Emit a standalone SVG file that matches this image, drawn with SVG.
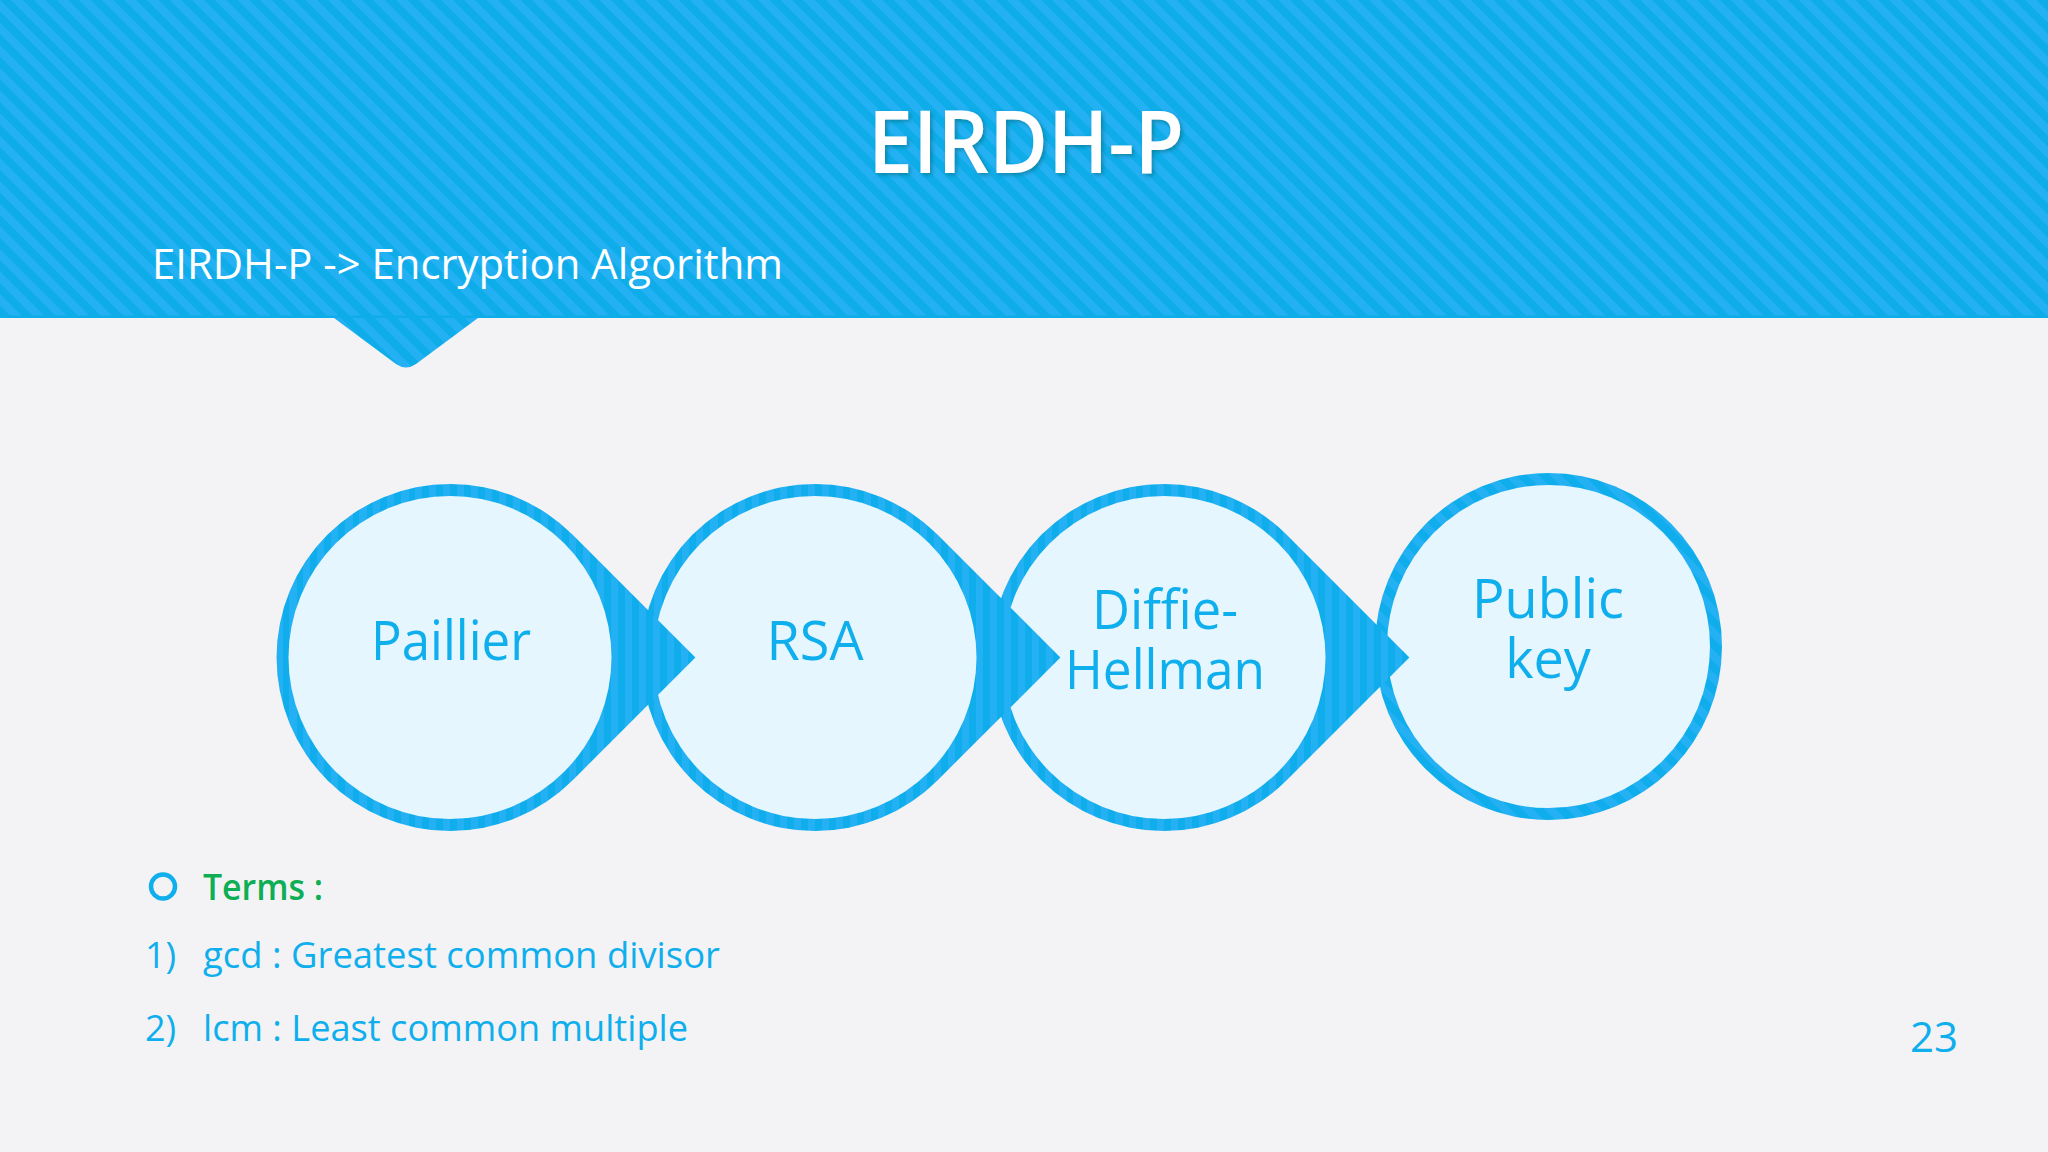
<svg xmlns="http://www.w3.org/2000/svg" width="2048" height="1152" viewBox="0 0 2048 1152">
<style>
text{font-family:"Open Sans","Noto Sans","Liberation Sans",sans-serif}
.lb{fill:#0FAEEC;font-size:54px;font-weight:400;text-anchor:middle}
.b{fill:#0FAEEC;font-size:36px;font-weight:400}
.in{fill:#E5F6FE}
</style>
<defs>
<pattern id="hs" width="16" height="16" patternUnits="userSpaceOnUse" patternTransform="rotate(-45)">
<rect width="16" height="16" fill="#24B1F4"/><rect width="8" height="16" fill="#0EADEA"/>
</pattern>
<pattern id="vs" width="14" height="14" patternUnits="userSpaceOnUse">
<rect width="14" height="14" fill="#24B1F4"/><rect width="7" height="14" fill="#0FADEB"/>
</pattern>
<pattern id="ds" width="16" height="16" patternUnits="userSpaceOnUse" patternTransform="rotate(-45)">
<rect width="16" height="16" fill="#24B1F4"/><rect width="8" height="16" fill="#0FADEB"/>
</pattern>
<path id="drop" d="M122.7 -122.7A173.5 173.5 0 1 0 122.7 122.7L245.4 0Z"/>
<filter id="sh" x="-10%" y="-20%" width="120%" height="140%"><feDropShadow dx="2" dy="2" stdDeviation="2" flood-color="#055" flood-opacity=".45"/></filter>
</defs>
<rect id="background" width="2048" height="1152" fill="#F3F3F5"/>
<g id="header">
<path d="M0 0H2048V318H478L416 364Q406 371 396 364L334 318H0Z" fill="url(#hs)"/>
<rect y="315.500" width="2048" height="2.500" fill="#0EADEA"/>
<text x="868" y="173" font-size="86" font-weight="600" fill="#fff" filter="url(#sh)" textLength="316" lengthAdjust="spacingAndGlyphs">EIRDH-P</text>
<text x="152" y="279" font-size="42" font-weight="400" fill="#fff" textLength="631" lengthAdjust="spacingAndGlyphs">EIRDH-P -&gt; Encryption Algorithm</text>
</g>
<g id="connectors"/>
<g id="node-public-key">
<circle cx="1548.500" cy="646.500" r="173.500" fill="url(#ds)"/>
<circle class="in" cx="1548.500" cy="646.500" r="161.500"/>
<text class="lb" x="1548" y="618">Public</text>
<text class="lb" x="1548" y="678">key</text>
</g>
<g id="node-diffie-hellman">
<use href="#drop" x="1164" y="657.500" fill="url(#vs)"/>
<circle class="in" cx="1164" cy="657.500" r="161.500"/>
<text class="lb" x="1165" y="629" textLength="146" lengthAdjust="spacingAndGlyphs">Diffie-</text>
<text class="lb" x="1165" y="689" textLength="200" lengthAdjust="spacingAndGlyphs">Hellman</text>
</g>
<g id="node-rsa">
<use href="#drop" x="815" y="657.500" fill="url(#vs)"/>
<circle class="in" cx="815" cy="657.500" r="161.500"/>
<text class="lb" x="815" y="660">RSA</text>
</g>
<g id="node-paillier">
<use href="#drop" x="450" y="657.500" fill="url(#vs)"/>
<circle class="in" cx="450" cy="657.500" r="161.500"/>
<text class="lb" x="451" y="660" textLength="160" lengthAdjust="spacingAndGlyphs">Paillier</text>
</g>
<g id="terms">
<circle cx="163" cy="886.500" r="12" fill="none" stroke="#0FAEEC" stroke-width="4.500"/>
<text x="203" y="900" font-size="36" font-weight="600" fill="#0DAE54" textLength="120" lengthAdjust="spacingAndGlyphs">Terms :</text>
<text class="b" x="145" y="968">1)</text>
<text class="b" x="203" y="968" textLength="517" lengthAdjust="spacingAndGlyphs">gcd : Greatest common divisor</text>
<text class="b" x="145" y="1041">2)</text>
<text class="b" x="203" y="1041" textLength="485" lengthAdjust="spacingAndGlyphs">lcm : Least common multiple</text>
</g>
<text id="page-number" x="1910" y="1052" font-size="42" font-weight="400" fill="#0FAEEC">23</text>
</svg>
